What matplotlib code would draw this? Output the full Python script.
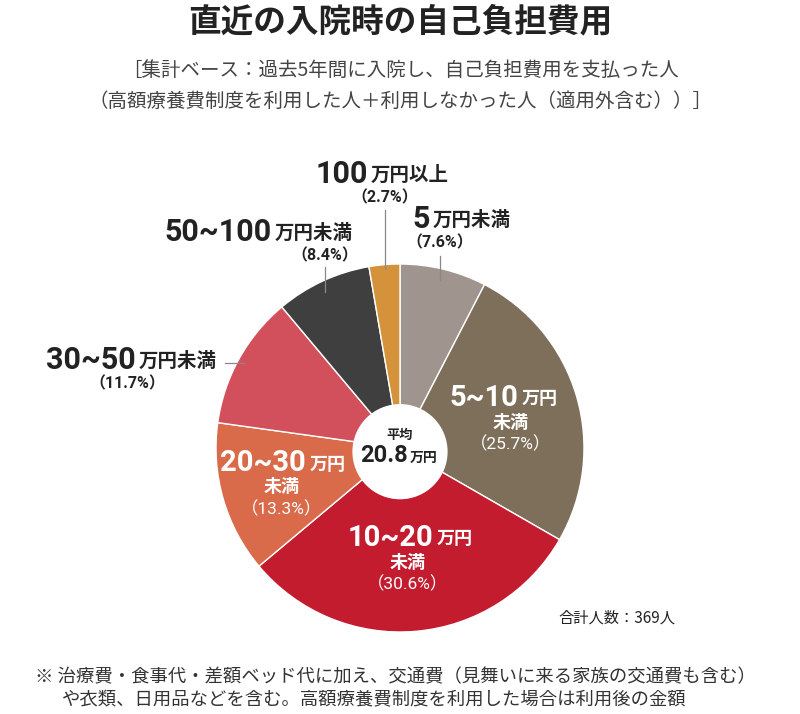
import matplotlib.pyplot as plt
from matplotlib.patches import Circle

plt.rcParams['font.family'] = ['Noto Sans CJK JP', 'DejaVu Sans']

# data
labels = ['5万円未満', '5~10万円未満', '10~20万円未満', '20~30万円未満',
          '30~50万円未満', '50~100万円未満', '100万円以上']
shares = [7.6, 25.7, 30.6, 13.3, 11.7, 8.4, 2.7]
colors = ['#a0948f', '#7e6f5a', '#c41c2f', '#d96b4b', '#d24f5c', '#3f3f3f', '#d4923a']
average = 20.8
total = 369

W, H = 800, 714
fig = plt.figure(figsize=(W / 100, H / 100), dpi=100)

# pie axes: centre (400, 448), radius 184 px
cx, cy, r = 400, 448, 184
ax = fig.add_axes([(cx - r) / W, 1 - (cy + r) / H, 2 * r / W, 2 * r / H])
ax.pie(shares, colors=colors, startangle=90, counterclock=False, radius=1,
       wedgeprops=dict(edgecolor='white', linewidth=1.0))
ax.add_patch(Circle((0, -0.02), 0.255, color='white', zorder=5))
ax.set_xlim(-1, 1)
ax.set_ylim(-1, 1)
ax.set_aspect('equal')
ax.axis('off')

NUM = ['Roboto', 'Noto Sans CJK JP']


def tx(x, y, s, size, color='#222222', weight='bold', ha='center', family=None, **kw):
    fig.text(x / W, 1 - y / H, s, fontsize=size, color=color, weight=weight,
             ha=ha, va='center', family=family or ['Noto Sans CJK JP', 'DejaVu Sans'], **kw)


def line(x0, y0, x1, y1):
    fig.add_artist(plt.Line2D([x0 / W, x1 / W], [1 - y0 / H, 1 - y1 / H],
                              color='#888888', lw=0.9))


# title
tx(400, 22, '直近の入院時の自己負担費用', 23.5, color='#222222')
tx(400, 70, '［集計ベース：過去5年間に入院し、自己負担費用を支払った人', 14,
   color='#444444', weight='normal')
tx(400, 101, '（高額療養費制度を利用した人＋利用しなかった人（適用外含む））］', 14,
   color='#444444', weight='normal')

# outside labels: (number part, unit part, split x, y, pct, pct x)
outside = [
    ('5', '万円未満', 430, 219, shares[0], 440),
    ('50~100', '万円未満', 272, 232, shares[5], 325),
    ('30~50', '万円未満', 136, 360, shares[4], 127),
    ('100', '万円以上', 368, 174, shares[6], 385),
]
for num, unit, sx, y, p, px in outside:
    tx(sx, y, num, 22, ha='right', family=NUM)
    tx(sx + 3, y + 1, unit, 14, ha='left')
    tx(px, y + 24, f'（{p}%）', 11.5, ha='center', family=NUM)

line(440, 256, 440, 280)
line(325, 267, 325, 292)
line(385, 210, 385, 268)
line(225, 363, 244, 363)

# inside labels
inside = [
    ('5~10', 518, 398, shares[1], 511),
    ('10~20', 433, 538, shares[2], 408),
    ('20~30', 306, 463, shares[3], 282),
]
for num, sx, y, p, px in inside:
    tx(sx, y, num, 21, color='white', ha='right', family=NUM)
    tx(sx + 4, y + 1, '万円', 13, color='white', ha='left')
    tx(px, y + 24, '未満', 13, color='white')
    tx(px, y + 46, f'（{p}%）', 12.5, color='white', weight='normal', family=NUM)

# centre
tx(400, 435, '平均', 9.5)
tx(408, 456, f'{average}', 17, ha='right', family=NUM)
tx(410, 458, '万円', 10, ha='left')

tx(617, 618, f'合計人数：{total}人', 11, color='#222222', weight='normal')

tx(35, 677, '※ 治療費・食事代・差額ベッド代に加え、交通費（見舞いに来る家族の交通費も含む）', 13.2,
   color='#333333', weight='normal', ha='left')
tx(62, 700, 'や衣類、日用品などを含む。高額療養費制度を利用した場合は利用後の金額', 13.2,
   color='#333333', weight='normal', ha='left')

fig.savefig('out.png', dpi=100)
